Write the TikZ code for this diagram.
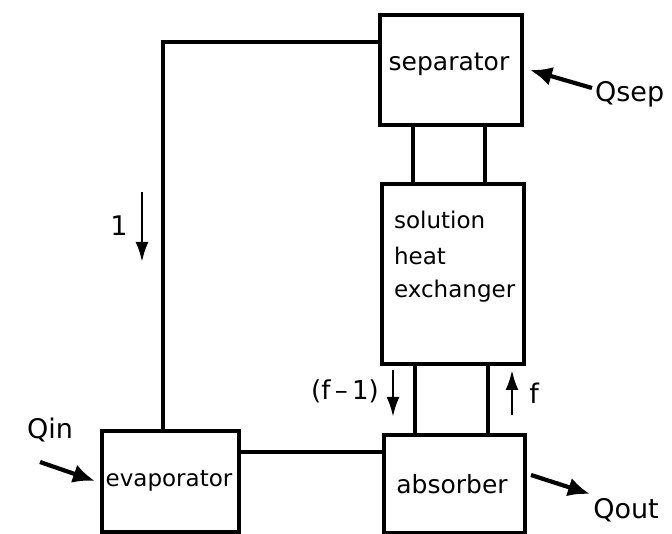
\documentclass[tikz,border=0pt]{standalone}
\usepackage{fontspec}
\setmainfont{DejaVu Sans}
\usetikzlibrary{arrows.meta}
\begin{document}
\begin{tikzpicture}[x=1pt,y=-1pt,
  line width=3.6pt,
  box/.style={draw,line width=3.8pt,inner sep=0pt,anchor=north west},
  lbl/.style={font=\fontsize{23}{26}\selectfont},
  biglbl/.style={font=\fontsize{27}{30}\selectfont},
  flow/.style={line width=2.8pt,-{Latex[length=20pt,width=13pt]}},
  heat/.style={line width=4.2pt,-{Latex[length=22pt,width=19pt]}}]
\useasboundingbox (0,0) rectangle (672,534);
% boxes
\node[box,minimum width=142pt,minimum height=110pt] (sep) at (378,13) {};
\node[box,minimum width=142pt,minimum height=180pt] (shx) at (380,182) {};
\node[box,minimum width=141pt,minimum height=98pt] (abs) at (382,433) {};
\node[box,minimum width=137pt,minimum height=101pt] (eva) at (100,429) {};
% texts
\node[lbl,font=\fontsize{25}{28}\selectfont] (septxt) at (449,64) {separator};
\node[lbl,anchor=west] (shx1) at (389,220) {solution};
\node[lbl,anchor=west] (shx2) at (389,256) {heat};
\node[lbl,anchor=west] (shx3) at (389,291) {exchanger};
\node[lbl,font=\fontsize{25}{28}\selectfont] (abstxt) at (452,484) {absorber};
\node[lbl] (evatxt) at (169,481) {evaporator};
% connectors
\coordinate (c1) at (163,42);
\draw (eva.north -| c1) -- (c1) -- (c1 -| sep.west);
\draw (eva.east |- 0,452) -- (abs.west |- 0,452);
\draw (413,123) -- (413,182);
\draw (485,123) -- (485,182);
\draw (415,362) -- (415,433);
\draw (488,362) -- (488,433);
% flow arrows
\coordinate (a1s) at (142,192); \coordinate (a1e) at (142,262);
\draw[flow] (a1s) -- (a1e);
\node[biglbl] (one) at (119,226) {1};
\coordinate (a2s) at (393,370); \coordinate (a2e) at (393,417);
\draw[flow] (a2s) -- (a2e);
\node[lbl,font=\fontsize{26}{28}\selectfont] (fm1) at (345,391) {(f\,–\,1)};
\coordinate (a3s) at (512,415); \coordinate (a3e) at (512,370);
\draw[flow] (a3s) -- (a3e);
\node[biglbl] (f) at (534,393) {f};
% heat arrows
\node[biglbl] (qin) at (50,430) {Qin};
\coordinate (qis) at (40,462); \coordinate (qie) at (95,481);
\draw[heat] (qis) -- (qie);
\node[biglbl] (qout) at (626,510) {Qout};
\coordinate (qos) at (531,475); \coordinate (qoe) at (590,494);
\draw[heat] (qos) -- (qoe);
\node[biglbl,anchor=west] (qsep) at (590,94) {Qsep};
\coordinate (qss) at (592,88); \coordinate (qse) at (530,70);
\draw[heat] (qss) -- (qse);
\end{tikzpicture}
\end{document}
